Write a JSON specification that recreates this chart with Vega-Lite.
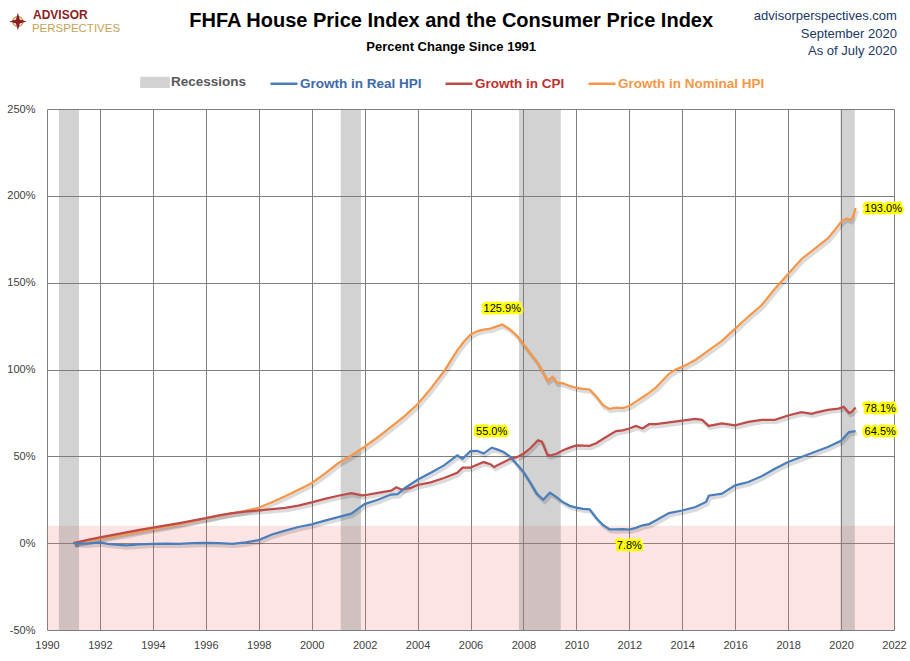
{
  "$schema": "https://vega.github.io/schema/vega-lite/v6.json",
  "width": 847,
  "height": 521,
  "autosize": {"type": "none"},
  "padding": {"left": 47, "top": 109, "right": 16, "bottom": 31},
  "background": "white",
  "config": {
    "view": {"stroke": null},
    "font": "Liberation Sans",
    "axis": {
      "grid": true, "gridColor": "#7f7f7f", "gridWidth": 1,
      "ticks": false, "domain": false, "title": null,
      "labelFont": "Liberation Sans", "labelFontSize": 11, "labelColor": "#404040"
    }
  },
  "datasets": {
    "bands": [{"from": -50, "to": 10}],
    "recessions": [
      {"series": "Recessions", "start": 1990.45, "end": 1991.21},
      {"series": "Recessions", "start": 2001.1, "end": 2001.86},
      {"series": "Recessions", "start": 2007.83, "end": 2009.41},
      {"series": "Recessions", "start": 2019.98, "end": 2020.52}
    ],
    "header": [
      {"part": "title", "text": "FHFA House Price Index and the Consumer Price Index"},
      {"part": "subtitle", "text": "Percent Change Since 1991"},
      {"part": "source", "text": "advisorperspectives.com\nSeptember 2020\nAs of July 2020"},
      {"part": "brand1", "text": "ADVISOR"},
      {"part": "brand2", "text": "PERSPECTIVES"}
    ],
    "labels": [
      {"series": "Growth in Nominal HPI", "kind": "peak", "year": 2007.2, "value": 125.9},
      {"series": "Growth in Real HPI", "kind": "peak", "year": 2006.8, "value": 55.0},
      {"series": "Growth in Real HPI", "kind": "trough", "year": 2012.0, "value": 7.8},
      {"series": "Growth in Nominal HPI", "kind": "latest", "year": 2020.55, "value": 193.0},
      {"series": "Growth in CPI", "kind": "latest", "year": 2020.55, "value": 78.1},
      {"series": "Growth in Real HPI", "kind": "latest", "year": 2020.55, "value": 64.5}
    ],
    "hpi": [
      {"series": "Growth in Nominal HPI", "year": 1991, "value": 0},
      {"series": "Growth in Nominal HPI", "year": 1991.5, "value": 1.3},
      {"series": "Growth in Nominal HPI", "year": 1992, "value": 2.8},
      {"series": "Growth in Nominal HPI", "year": 1992.5, "value": 4.0},
      {"series": "Growth in Nominal HPI", "year": 1993, "value": 5.3},
      {"series": "Growth in Nominal HPI", "year": 1993.5, "value": 6.8},
      {"series": "Growth in Nominal HPI", "year": 1994, "value": 8.2},
      {"series": "Growth in Nominal HPI", "year": 1994.5, "value": 9.6},
      {"series": "Growth in Nominal HPI", "year": 1995, "value": 11.0},
      {"series": "Growth in Nominal HPI", "year": 1995.5, "value": 12.6},
      {"series": "Growth in Nominal HPI", "year": 1996, "value": 14.2},
      {"series": "Growth in Nominal HPI", "year": 1996.5, "value": 15.7},
      {"series": "Growth in Nominal HPI", "year": 1997, "value": 17.2},
      {"series": "Growth in Nominal HPI", "year": 1997.5, "value": 18.6},
      {"series": "Growth in Nominal HPI", "year": 1998, "value": 20.4},
      {"series": "Growth in Nominal HPI", "year": 1998.5, "value": 23.6},
      {"series": "Growth in Nominal HPI", "year": 1999, "value": 27.0},
      {"series": "Growth in Nominal HPI", "year": 1999.5, "value": 30.8},
      {"series": "Growth in Nominal HPI", "year": 2000, "value": 34.5},
      {"series": "Growth in Nominal HPI", "year": 2000.5, "value": 40.0},
      {"series": "Growth in Nominal HPI", "year": 2001, "value": 46.0},
      {"series": "Growth in Nominal HPI", "year": 2001.5, "value": 50.5},
      {"series": "Growth in Nominal HPI", "year": 2002, "value": 55.5},
      {"series": "Growth in Nominal HPI", "year": 2002.5, "value": 61.0},
      {"series": "Growth in Nominal HPI", "year": 2003, "value": 67.0},
      {"series": "Growth in Nominal HPI", "year": 2003.5, "value": 73.0},
      {"series": "Growth in Nominal HPI", "year": 2004, "value": 80.0},
      {"series": "Growth in Nominal HPI", "year": 2004.5, "value": 89.0},
      {"series": "Growth in Nominal HPI", "year": 2005, "value": 99.0},
      {"series": "Growth in Nominal HPI", "year": 2005.5, "value": 111.0},
      {"series": "Growth in Nominal HPI", "year": 2005.75, "value": 116.0},
      {"series": "Growth in Nominal HPI", "year": 2006, "value": 120.0},
      {"series": "Growth in Nominal HPI", "year": 2006.25, "value": 122.0},
      {"series": "Growth in Nominal HPI", "year": 2006.5, "value": 123.0},
      {"series": "Growth in Nominal HPI", "year": 2006.75, "value": 123.5},
      {"series": "Growth in Nominal HPI", "year": 2007, "value": 124.8},
      {"series": "Growth in Nominal HPI", "year": 2007.2, "value": 125.9},
      {"series": "Growth in Nominal HPI", "year": 2007.5, "value": 123.0},
      {"series": "Growth in Nominal HPI", "year": 2007.75, "value": 119.5},
      {"series": "Growth in Nominal HPI", "year": 2008, "value": 114.5},
      {"series": "Growth in Nominal HPI", "year": 2008.25, "value": 109.5},
      {"series": "Growth in Nominal HPI", "year": 2008.5, "value": 104.5},
      {"series": "Growth in Nominal HPI", "year": 2008.75, "value": 98.0},
      {"series": "Growth in Nominal HPI", "year": 2008.9, "value": 93.5},
      {"series": "Growth in Nominal HPI", "year": 2009, "value": 94.5},
      {"series": "Growth in Nominal HPI", "year": 2009.1, "value": 95.8},
      {"series": "Growth in Nominal HPI", "year": 2009.25, "value": 92.5},
      {"series": "Growth in Nominal HPI", "year": 2009.5, "value": 92.0},
      {"series": "Growth in Nominal HPI", "year": 2009.75, "value": 90.5},
      {"series": "Growth in Nominal HPI", "year": 2010, "value": 89.5},
      {"series": "Growth in Nominal HPI", "year": 2010.25, "value": 88.8},
      {"series": "Growth in Nominal HPI", "year": 2010.5, "value": 88.5},
      {"series": "Growth in Nominal HPI", "year": 2010.75, "value": 84.5},
      {"series": "Growth in Nominal HPI", "year": 2011, "value": 79.5},
      {"series": "Growth in Nominal HPI", "year": 2011.25, "value": 77.3},
      {"series": "Growth in Nominal HPI", "year": 2011.5, "value": 78.0},
      {"series": "Growth in Nominal HPI", "year": 2011.75, "value": 77.8},
      {"series": "Growth in Nominal HPI", "year": 2012, "value": 79.0},
      {"series": "Growth in Nominal HPI", "year": 2012.25, "value": 81.5},
      {"series": "Growth in Nominal HPI", "year": 2012.5, "value": 84.0},
      {"series": "Growth in Nominal HPI", "year": 2012.75, "value": 86.5},
      {"series": "Growth in Nominal HPI", "year": 2013, "value": 89.5},
      {"series": "Growth in Nominal HPI", "year": 2013.25, "value": 93.5},
      {"series": "Growth in Nominal HPI", "year": 2013.5, "value": 97.5},
      {"series": "Growth in Nominal HPI", "year": 2013.75, "value": 100.0},
      {"series": "Growth in Nominal HPI", "year": 2014, "value": 101.5},
      {"series": "Growth in Nominal HPI", "year": 2014.5, "value": 105.5},
      {"series": "Growth in Nominal HPI", "year": 2015, "value": 111.0},
      {"series": "Growth in Nominal HPI", "year": 2015.5, "value": 116.5},
      {"series": "Growth in Nominal HPI", "year": 2016, "value": 123.5},
      {"series": "Growth in Nominal HPI", "year": 2016.5, "value": 130.5},
      {"series": "Growth in Nominal HPI", "year": 2017, "value": 137.0},
      {"series": "Growth in Nominal HPI", "year": 2017.5, "value": 146.5},
      {"series": "Growth in Nominal HPI", "year": 2018, "value": 155.0},
      {"series": "Growth in Nominal HPI", "year": 2018.5, "value": 163.5},
      {"series": "Growth in Nominal HPI", "year": 2019, "value": 169.5},
      {"series": "Growth in Nominal HPI", "year": 2019.5, "value": 175.5},
      {"series": "Growth in Nominal HPI", "year": 2019.75, "value": 180.0},
      {"series": "Growth in Nominal HPI", "year": 2020, "value": 185.0},
      {"series": "Growth in Nominal HPI", "year": 2020.2, "value": 187.0},
      {"series": "Growth in Nominal HPI", "year": 2020.35, "value": 186.0},
      {"series": "Growth in Nominal HPI", "year": 2020.45, "value": 188.0},
      {"series": "Growth in Nominal HPI", "year": 2020.55, "value": 193.0},

      {"series": "Growth in CPI", "year": 1991, "value": 0},
      {"series": "Growth in CPI", "year": 1991.5, "value": 1.8},
      {"series": "Growth in CPI", "year": 1992, "value": 3.3},
      {"series": "Growth in CPI", "year": 1992.5, "value": 4.8},
      {"series": "Growth in CPI", "year": 1993, "value": 6.2},
      {"series": "Growth in CPI", "year": 1993.5, "value": 7.6},
      {"series": "Growth in CPI", "year": 1994, "value": 9.0},
      {"series": "Growth in CPI", "year": 1994.5, "value": 10.3},
      {"series": "Growth in CPI", "year": 1995, "value": 11.6},
      {"series": "Growth in CPI", "year": 1995.5, "value": 13.0},
      {"series": "Growth in CPI", "year": 1996, "value": 14.4},
      {"series": "Growth in CPI", "year": 1996.5, "value": 16.0},
      {"series": "Growth in CPI", "year": 1997, "value": 17.3},
      {"series": "Growth in CPI", "year": 1997.5, "value": 18.2},
      {"series": "Growth in CPI", "year": 1998, "value": 18.9},
      {"series": "Growth in CPI", "year": 1998.5, "value": 19.6},
      {"series": "Growth in CPI", "year": 1999, "value": 20.3},
      {"series": "Growth in CPI", "year": 1999.5, "value": 21.6},
      {"series": "Growth in CPI", "year": 2000, "value": 23.5},
      {"series": "Growth in CPI", "year": 2000.5, "value": 25.5},
      {"series": "Growth in CPI", "year": 2001, "value": 27.3},
      {"series": "Growth in CPI", "year": 2001.5, "value": 28.8},
      {"series": "Growth in CPI", "year": 2001.9, "value": 27.5},
      {"series": "Growth in CPI", "year": 2002, "value": 27.6},
      {"series": "Growth in CPI", "year": 2002.5, "value": 29.0},
      {"series": "Growth in CPI", "year": 2003, "value": 30.2},
      {"series": "Growth in CPI", "year": 2003.2, "value": 32.2},
      {"series": "Growth in CPI", "year": 2003.4, "value": 30.8},
      {"series": "Growth in CPI", "year": 2003.75, "value": 31.8},
      {"series": "Growth in CPI", "year": 2004, "value": 33.5},
      {"series": "Growth in CPI", "year": 2004.5, "value": 35.0},
      {"series": "Growth in CPI", "year": 2005, "value": 37.5},
      {"series": "Growth in CPI", "year": 2005.5, "value": 40.5},
      {"series": "Growth in CPI", "year": 2005.7, "value": 43.5},
      {"series": "Growth in CPI", "year": 2006, "value": 43.5},
      {"series": "Growth in CPI", "year": 2006.5, "value": 46.7},
      {"series": "Growth in CPI", "year": 2006.75, "value": 45.5},
      {"series": "Growth in CPI", "year": 2006.9, "value": 43.8},
      {"series": "Growth in CPI", "year": 2007, "value": 44.8},
      {"series": "Growth in CPI", "year": 2007.5, "value": 48.5},
      {"series": "Growth in CPI", "year": 2007.75, "value": 49.5},
      {"series": "Growth in CPI", "year": 2008, "value": 51.5},
      {"series": "Growth in CPI", "year": 2008.25, "value": 54.5},
      {"series": "Growth in CPI", "year": 2008.55, "value": 59.3},
      {"series": "Growth in CPI", "year": 2008.7, "value": 58.5},
      {"series": "Growth in CPI", "year": 2008.9, "value": 51.0},
      {"series": "Growth in CPI", "year": 2009, "value": 50.5},
      {"series": "Growth in CPI", "year": 2009.25, "value": 51.5},
      {"series": "Growth in CPI", "year": 2009.5, "value": 53.5},
      {"series": "Growth in CPI", "year": 2009.75, "value": 55.0},
      {"series": "Growth in CPI", "year": 2010, "value": 56.3},
      {"series": "Growth in CPI", "year": 2010.5, "value": 56.0},
      {"series": "Growth in CPI", "year": 2010.75, "value": 57.5},
      {"series": "Growth in CPI", "year": 2011, "value": 60.0},
      {"series": "Growth in CPI", "year": 2011.5, "value": 64.5},
      {"series": "Growth in CPI", "year": 2011.75, "value": 65.0},
      {"series": "Growth in CPI", "year": 2012, "value": 66.0},
      {"series": "Growth in CPI", "year": 2012.25, "value": 67.5},
      {"series": "Growth in CPI", "year": 2012.5, "value": 66.0},
      {"series": "Growth in CPI", "year": 2012.75, "value": 68.5},
      {"series": "Growth in CPI", "year": 2013, "value": 68.5},
      {"series": "Growth in CPI", "year": 2013.5, "value": 69.5},
      {"series": "Growth in CPI", "year": 2014, "value": 70.5},
      {"series": "Growth in CPI", "year": 2014.5, "value": 71.5},
      {"series": "Growth in CPI", "year": 2014.75, "value": 71.0},
      {"series": "Growth in CPI", "year": 2015, "value": 67.5},
      {"series": "Growth in CPI", "year": 2015.5, "value": 69.0},
      {"series": "Growth in CPI", "year": 2016, "value": 67.8},
      {"series": "Growth in CPI", "year": 2016.5, "value": 69.8},
      {"series": "Growth in CPI", "year": 2017, "value": 71.0},
      {"series": "Growth in CPI", "year": 2017.5, "value": 71.0},
      {"series": "Growth in CPI", "year": 2018, "value": 73.5},
      {"series": "Growth in CPI", "year": 2018.5, "value": 75.5},
      {"series": "Growth in CPI", "year": 2018.9, "value": 74.5},
      {"series": "Growth in CPI", "year": 2019, "value": 75.0},
      {"series": "Growth in CPI", "year": 2019.5, "value": 76.8},
      {"series": "Growth in CPI", "year": 2019.9, "value": 77.5},
      {"series": "Growth in CPI", "year": 2020.1, "value": 78.5},
      {"series": "Growth in CPI", "year": 2020.3, "value": 75.0},
      {"series": "Growth in CPI", "year": 2020.4, "value": 75.5},
      {"series": "Growth in CPI", "year": 2020.55, "value": 78.1},

      {"series": "Growth in Real HPI", "year": 1991, "value": 0},
      {"series": "Growth in Real HPI", "year": 1991.5, "value": -0.3},
      {"series": "Growth in Real HPI", "year": 1992, "value": 0.4},
      {"series": "Growth in Real HPI", "year": 1992.3, "value": -0.4},
      {"series": "Growth in Real HPI", "year": 1992.6, "value": -0.8},
      {"series": "Growth in Real HPI", "year": 1993, "value": -1.3},
      {"series": "Growth in Real HPI", "year": 1993.5, "value": -0.7},
      {"series": "Growth in Real HPI", "year": 1994, "value": -0.4},
      {"series": "Growth in Real HPI", "year": 1994.5, "value": -0.2},
      {"series": "Growth in Real HPI", "year": 1995, "value": -0.4},
      {"series": "Growth in Real HPI", "year": 1995.5, "value": 0.0},
      {"series": "Growth in Real HPI", "year": 1996, "value": 0.2},
      {"series": "Growth in Real HPI", "year": 1996.5, "value": 0.0},
      {"series": "Growth in Real HPI", "year": 1997, "value": -0.4},
      {"series": "Growth in Real HPI", "year": 1997.5, "value": 0.4},
      {"series": "Growth in Real HPI", "year": 1998, "value": 1.8},
      {"series": "Growth in Real HPI", "year": 1998.5, "value": 5.0},
      {"series": "Growth in Real HPI", "year": 1999, "value": 7.2},
      {"series": "Growth in Real HPI", "year": 1999.5, "value": 9.3},
      {"series": "Growth in Real HPI", "year": 2000, "value": 10.8},
      {"series": "Growth in Real HPI", "year": 2000.5, "value": 13.0},
      {"series": "Growth in Real HPI", "year": 2001, "value": 15.0},
      {"series": "Growth in Real HPI", "year": 2001.5, "value": 17.0},
      {"series": "Growth in Real HPI", "year": 2002, "value": 22.5},
      {"series": "Growth in Real HPI", "year": 2002.5, "value": 25.0},
      {"series": "Growth in Real HPI", "year": 2003, "value": 28.0},
      {"series": "Growth in Real HPI", "year": 2003.25, "value": 28.2},
      {"series": "Growth in Real HPI", "year": 2003.5, "value": 31.5},
      {"series": "Growth in Real HPI", "year": 2004, "value": 36.5},
      {"series": "Growth in Real HPI", "year": 2004.5, "value": 40.5},
      {"series": "Growth in Real HPI", "year": 2005, "value": 44.8},
      {"series": "Growth in Real HPI", "year": 2005.5, "value": 50.5},
      {"series": "Growth in Real HPI", "year": 2005.7, "value": 48.6},
      {"series": "Growth in Real HPI", "year": 2006, "value": 53.0},
      {"series": "Growth in Real HPI", "year": 2006.25, "value": 53.2},
      {"series": "Growth in Real HPI", "year": 2006.5, "value": 51.6},
      {"series": "Growth in Real HPI", "year": 2006.8, "value": 55.0},
      {"series": "Growth in Real HPI", "year": 2007, "value": 54.0},
      {"series": "Growth in Real HPI", "year": 2007.25, "value": 52.5},
      {"series": "Growth in Real HPI", "year": 2007.5, "value": 49.8},
      {"series": "Growth in Real HPI", "year": 2007.75, "value": 45.5},
      {"series": "Growth in Real HPI", "year": 2008, "value": 41.0},
      {"series": "Growth in Real HPI", "year": 2008.25, "value": 35.0},
      {"series": "Growth in Real HPI", "year": 2008.5, "value": 28.5},
      {"series": "Growth in Real HPI", "year": 2008.75, "value": 25.0},
      {"series": "Growth in Real HPI", "year": 2009, "value": 29.0},
      {"series": "Growth in Real HPI", "year": 2009.25, "value": 26.5},
      {"series": "Growth in Real HPI", "year": 2009.5, "value": 23.5},
      {"series": "Growth in Real HPI", "year": 2009.75, "value": 21.5},
      {"series": "Growth in Real HPI", "year": 2010, "value": 20.5},
      {"series": "Growth in Real HPI", "year": 2010.25, "value": 19.8},
      {"series": "Growth in Real HPI", "year": 2010.5, "value": 19.5},
      {"series": "Growth in Real HPI", "year": 2010.75, "value": 14.5},
      {"series": "Growth in Real HPI", "year": 2011, "value": 10.5},
      {"series": "Growth in Real HPI", "year": 2011.25, "value": 8.0},
      {"series": "Growth in Real HPI", "year": 2011.5, "value": 7.9},
      {"series": "Growth in Real HPI", "year": 2011.75, "value": 8.1},
      {"series": "Growth in Real HPI", "year": 2012, "value": 7.8},
      {"series": "Growth in Real HPI", "year": 2012.25, "value": 8.8},
      {"series": "Growth in Real HPI", "year": 2012.5, "value": 10.3},
      {"series": "Growth in Real HPI", "year": 2012.75, "value": 11.0},
      {"series": "Growth in Real HPI", "year": 2013, "value": 13.0},
      {"series": "Growth in Real HPI", "year": 2013.5, "value": 17.3},
      {"series": "Growth in Real HPI", "year": 2014, "value": 18.8},
      {"series": "Growth in Real HPI", "year": 2014.5, "value": 20.8},
      {"series": "Growth in Real HPI", "year": 2014.9, "value": 23.7},
      {"series": "Growth in Real HPI", "year": 2015, "value": 27.3},
      {"series": "Growth in Real HPI", "year": 2015.5, "value": 28.5},
      {"series": "Growth in Real HPI", "year": 2016, "value": 33.3},
      {"series": "Growth in Real HPI", "year": 2016.5, "value": 35.2},
      {"series": "Growth in Real HPI", "year": 2017, "value": 38.5},
      {"series": "Growth in Real HPI", "year": 2017.5, "value": 42.9},
      {"series": "Growth in Real HPI", "year": 2018, "value": 46.7},
      {"series": "Growth in Real HPI", "year": 2018.5, "value": 49.6},
      {"series": "Growth in Real HPI", "year": 2019, "value": 52.5},
      {"series": "Growth in Real HPI", "year": 2019.5, "value": 55.4},
      {"series": "Growth in Real HPI", "year": 2020, "value": 59.0},
      {"series": "Growth in Real HPI", "year": 2020.3, "value": 64.0},
      {"series": "Growth in Real HPI", "year": 2020.55, "value": 64.5}
    ]
  },
  "layer": [
    {
      "data": {"name": "bands"},
      "mark": {"type": "rect", "color": "#f57a7a", "opacity": 0.2},
      "encoding": {
        "y": {"field": "from", "type": "quantitative"},
        "y2": {"field": "to"}
      }
    },
    {
      "data": {"name": "recessions"},
      "mark": {"type": "rect", "opacity": 0.35},
      "encoding": {
        "x": {"field": "start", "type": "quantitative"},
        "x2": {"field": "end"},
        "color": {"field": "series", "type": "nominal"}
      }
    },
    {
      "data": {"name": "hpi"},
      "mark": {"type": "line", "color": "#000000", "opacity": 0.14, "strokeWidth": 3.5, "xOffset": 1.5, "yOffset": 2.5},
      "encoding": {
        "x": {"field": "year", "type": "quantitative"},
        "y": {"field": "value", "type": "quantitative"},
        "detail": {"field": "series"}
      }
    },
    {
      "data": {"name": "hpi"},
      "mark": {"type": "line", "strokeWidth": 2.25},
      "encoding": {
        "x": {
          "field": "year", "type": "quantitative",
          "scale": {"domain": [1990, 2022], "nice": false, "zero": false},
          "axis": {
            "values": [1990, 1991, 1992, 1993, 1994, 1995, 1996, 1997, 1998, 1999, 2000, 2001, 2002, 2003, 2004, 2005, 2006, 2007, 2008, 2009, 2010, 2011, 2012, 2013, 2014, 2015, 2016, 2017, 2018, 2019, 2020, 2021, 2022],
            "format": "d",
            "labelExpr": "datum.value % 2 === 0 ? datum.label : ''",
            "labelPadding": 9, "labelFlush": false, "labelOverlap": false
          }
        },
        "y": {
          "field": "value", "type": "quantitative",
          "scale": {"domain": [-50, 250], "nice": false, "zero": false},
          "axis": {
            "values": [-50, 0, 50, 100, 150, 200, 250],
            "labelExpr": "datum.value + '%'",
            "labelPadding": 12
          }
        },
        "color": {
          "field": "series", "type": "nominal",
          "scale": {
            "domain": ["Recessions", "Growth in Real HPI", "Growth in CPI", "Growth in Nominal HPI"],
            "range": ["#7f7f7f", "#4a7ebb", "#be4b48", "#f79646"]
          },
          "legend": {
            "orient": "none", "legendX": 93, "legendY": -42, "direction": "horizontal",
            "title": null, "padding": 0,
            "labelFont": "Liberation Sans", "labelFontSize": 13.5, "labelFontWeight": "bold",
            "symbolSize": 729, "symbolStrokeWidth": 2.5, "labelOffset": 1, "columnPadding": 18,
            "encode": {
              "symbols": {
                "update": {
                  "shape": {"signal": "datum.value === 'Recessions' ? 'M-1,-0.32H1V0.32H-1Z' : 'stroke'"},
                  "fill": {"signal": "datum.value === 'Recessions' ? '#d4d4d4' : 'transparent'"},
                  "stroke": {"signal": "datum.value === 'Recessions' ? 'transparent' : scale('color', datum.value)"},
                  "opacity": {"signal": "datum.value === 'Recessions' ? 0.35 : 1"}
                }
              },
              "labels": {
                "update": {
                  "fill": {"signal": "datum.value === 'Recessions' ? '#595959' : datum.value === 'Growth in Real HPI' ? '#3c6aaa' : datum.value === 'Growth in CPI' ? '#c0302c' : '#f79646'"}
                }
              }
            }
          }
        }
      }
    },
    {
      "data": {"name": "labels"},
      "transform": [{"calculate": "format(datum.value, '.1f') + '%'", "as": "label"}],
      "mark": {
        "type": "text", "fontSize": 11, "baseline": "middle",
        "align": {"expr": "datum.kind === 'latest' ? 'left' : 'center'"},
        "dx": {"expr": "datum.kind === 'latest' ? 9 : 0"},
        "dy": {"expr": "datum.kind === 'peak' ? -16 : datum.kind === 'trough' ? 16 : 1"},
        "fill": "#ffff00", "stroke": "#ffff00", "strokeWidth": 5, "strokeJoin": "round"
      },
      "encoding": {
        "x": {"field": "year", "type": "quantitative"},
        "y": {"field": "value", "type": "quantitative"},
        "text": {"field": "label"}
      }
    },
    {
      "data": {"name": "labels"},
      "transform": [{"calculate": "format(datum.value, '.1f') + '%'", "as": "label"}],
      "mark": {
        "type": "text", "fontSize": 11, "baseline": "middle", "fill": "#000000",
        "align": {"expr": "datum.kind === 'latest' ? 'left' : 'center'"},
        "dx": {"expr": "datum.kind === 'latest' ? 9 : 0"},
        "dy": {"expr": "datum.kind === 'peak' ? -16 : datum.kind === 'trough' ? 16 : 1"}
      },
      "encoding": {
        "x": {"field": "year", "type": "quantitative"},
        "y": {"field": "value", "type": "quantitative"},
        "text": {"field": "label"}
      }
    },
    {
      "data": {"name": "header"},
      "transform": [{"filter": "datum.part === 'title'"}],
      "mark": {"type": "text", "fontSize": 20, "fontWeight": "bold", "align": "center", "baseline": "alphabetic", "fill": "#000000"},
      "encoding": {
        "x": {"datum": 2005.27, "type": "quantitative"},
        "y": {"datum": 297.0, "type": "quantitative"},
        "text": {"field": "text"}
      }
    },
    {
      "data": {"name": "header"},
      "transform": [{"filter": "datum.part === 'subtitle'"}],
      "mark": {"type": "text", "fontSize": 13, "fontWeight": "bold", "align": "center", "baseline": "alphabetic", "fill": "#000000"},
      "encoding": {
        "x": {"datum": 2005.27, "type": "quantitative"},
        "y": {"datum": 283.6, "type": "quantitative"},
        "text": {"field": "text"}
      }
    },
    {
      "data": {"name": "header"},
      "transform": [{"filter": "datum.part === 'source'"}],
      "mark": {"type": "text", "fontSize": 13, "align": "right", "baseline": "alphabetic", "lineBreak": "\n", "lineHeight": 17.5, "fill": "#203864"},
      "encoding": {
        "x": {"datum": 2022.11, "type": "quantitative"},
        "y": {"datum": 300.96, "type": "quantitative"},
        "text": {"field": "text"}
      }
    },
    {
      "data": {"name": "header"},
      "transform": [{"filter": "datum.part === 'brand1'"}],
      "mark": {"type": "text", "fontSize": 12, "fontWeight": "bold", "align": "left", "baseline": "alphabetic", "fill": "#8b1e24"},
      "encoding": {
        "x": {"datum": 1989.47, "type": "quantitative"},
        "y": {"datum": 301.8, "type": "quantitative"},
        "text": {"field": "text"}
      }
    },
    {
      "data": {"name": "header"},
      "transform": [{"filter": "datum.part === 'brand2'"}],
      "mark": {"type": "text", "fontSize": 11.5, "align": "left", "baseline": "alphabetic", "fill": "#c5a355"},
      "encoding": {
        "x": {"datum": 1989.43, "type": "quantitative"},
        "y": {"datum": 294.6, "type": "quantitative"},
        "text": {"field": "text"}
      }
    },
    {
      "data": {"name": "header"},
      "transform": [{"filter": "datum.part === 'brand1'"}],
      "mark": {"type": "point", "shape": "circle", "filled": false, "stroke": "#c5a355", "strokeWidth": 1.5, "size": 100, "opacity": 1},
      "encoding": {
        "x": {"datum": 1988.9, "type": "quantitative"},
        "y": {"datum": 300.4, "type": "quantitative"}
      }
    },
    {
      "data": {"name": "header"},
      "transform": [{"filter": "datum.part === 'brand1'"}],
      "mark": {"type": "point", "shape": "M0,-1L0.22,-0.22L1,0L0.22,0.22L0,1L-0.22,0.22L-1,0L-0.22,-0.22Z", "filled": true, "color": "#8b1e24", "size": 300, "opacity": 1},
      "encoding": {
        "x": {"datum": 1988.9, "type": "quantitative"},
        "y": {"datum": 300.4, "type": "quantitative"}
      }
    }
  ]
}
